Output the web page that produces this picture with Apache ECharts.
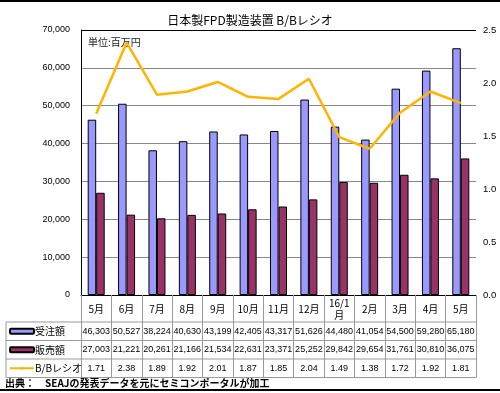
<!DOCTYPE html>
<html>
<head>
<meta charset="utf-8">
<script src="https://cdn.jsdelivr.net/npm/echarts@6/dist/echarts.min.js"></script>
<style>html,body{margin:0;padding:0;background:#fff;}#c{width:500px;height:393px;}</style>
</head>
<body>
<div id="c"></div>
<script>
// ---- data ----
const categories = ['5月','6月','7月','8月','9月','10月','11月','12月','16/1\n月','2月','3月','4月','5月'];
const orders = [46303,50527,38224,40630,43199,42405,43317,51626,44480,41054,54500,59280,65180];
const sales = [27003,21221,20261,21166,21534,22631,23371,25252,29842,29654,31761,30810,36075];
const bbRatio = [1.71,2.38,1.89,1.92,2.01,1.87,1.85,2.04,1.49,1.38,1.72,1.92,1.81];
const seriesNames = ['受注額','販売額','B/Bレシオ'];
const leftAxis = {min: 0, max: 70000, interval: 10000};
const rightAxis = {min: 0, max: 2.5, interval: 0.5};
const titleText = '日本製FPD製造装置 B/Bレシオ';
const unitText = '単位:百万円';
const sourceText = '出典：　SEAJの発表データを元にセミコンポータルが加工';

// ---- layout ----
const G = {left: 81, right: 476, top: 30, bottom: 295};
const rowTops = [322, 340.5, 359];
const rowH = 18.5;
const tableBottom = rowTops[2] + rowH;
const tableLeft = 6;
const numFont = '"Liberation Sans", Arial, "Noto Sans CJK JP", sans-serif';
const jpFont = '"Noto Sans CJK JP", "Liberation Sans", sans-serif';
const gridColor = '#888888';
const tableLine = '#999999';

const fmt = v => v.toLocaleString('en-US');

function valueAxis(values, row, formatter) {
  return {
    type: 'category', gridIndex: 0, position: 'bottom',
    data: values.map(formatter),
    offset: rowTops[row] - G.bottom,
    axisLine: {show: false}, axisTick: {show: false}, splitLine: {show: false},
    axisLabel: {interval: 0, margin: rowH / 2, verticalAlign: 'middle',
      fontSize: 9, color: '#000', fontFamily: numFont}
  };
}

const splitColors = [];
for (let v = leftAxis.min; v <= leftAxis.max; v += leftAxis.interval) splitColors.push(gridColor);
splitColors[splitColors.length - 1] = '#000';

const chart = echarts.init(document.getElementById('c'), null, {renderer: 'canvas', width: 500, height: 393});

const lines = [];
rowTops.concat([tableBottom]).forEach(y => {
  lines.push({type: 'line', shape: {x1: tableLeft, y1: y, x2: G.right, y2: y}, style: {stroke: tableLine, lineWidth: 1}});
});
lines.push({type: 'line', shape: {x1: tableLeft, y1: rowTops[0], x2: tableLeft, y2: tableBottom}, style: {stroke: tableLine, lineWidth: 1}});
lines.push({type: 'line', shape: {x1: 0, y1: 1, x2: 500, y2: 1}, style: {stroke: '#000', lineWidth: 2}});
lines.push({type: 'line', shape: {x1: 0, y1: 390, x2: 500, y2: 390}, style: {stroke: '#000', lineWidth: 2}});

const legends = seriesNames.map((n, i) => ({
  data: [n], left: 9, top: rowTops[i] + rowH / 2 - 6, padding: 0,
  orient: 'horizontal', icon: i < 2 ? 'roundRect' : undefined,
  itemWidth: 24, itemHeight: i < 2 ? 5 : 3, itemGap: 0,
  selectedMode: false,
  textStyle: {fontSize: 10, color: '#000', fontFamily: jpFont, lineHeight: 12, padding: [0, 0, 0, -4]}
}));

chart.setOption({
  animation: false,
  backgroundColor: '#fff',
  title: {text: titleText, left: 'center', top: 9,
    textStyle: {fontSize: 12, fontWeight: 'normal', color: '#000', fontFamily: jpFont}},
  legend: legends,
  grid: {left: G.left, right: 500 - G.right, top: G.top, bottom: 393 - G.bottom, containLabel: false},
  xAxis: [
    {type: 'category', gridIndex: 0, position: 'bottom', data: categories,
      axisLine: {lineStyle: {color: '#000', width: 1}},
      axisTick: {show: true, interval: 0, length: tableBottom - G.bottom, lineStyle: {color: tableLine}},
      axisLabel: {interval: 0, margin: 14, verticalAlign: 'middle', fontSize: 10, lineHeight: 12,
        color: '#000', fontFamily: jpFont}},
    valueAxis(orders, 0, fmt),
    valueAxis(sales, 1, fmt),
    valueAxis(bbRatio, 2, v => v.toFixed(2))
  ],
  yAxis: [
    {type: 'value', min: leftAxis.min, max: leftAxis.max, interval: leftAxis.interval,
      axisLine: {show: true, lineStyle: {color: '#000'}}, axisTick: {show: false},
      axisLabel: {margin: 11, fontSize: 9, color: '#000', fontFamily: numFont, formatter: v => fmt(v)},
      splitLine: {show: true, lineStyle: {color: splitColors, width: 1}}},
    {type: 'value', min: rightAxis.min, max: rightAxis.max, interval: rightAxis.interval, position: 'right',
      axisLine: {show: false}, axisTick: {show: false}, splitLine: {show: false},
      axisLabel: {margin: 7, fontSize: 9.5, color: '#000', fontFamily: numFont, formatter: v => v.toFixed(1)}}
  ],
  graphic: [
    {type: 'text', left: 88, top: 37, style: {text: unitText, fontSize: 10, fill: '#222', fontFamily: jpFont}},
    {type: 'text', left: 5, top: 378.5, style: {text: sourceText, fontSize: 10, fontWeight: 'bold', fill: '#000', fontFamily: jpFont}},
    {type: 'group', silent: true, children: lines}
  ],
  series: [
    {name: seriesNames[0], type: 'bar', xAxisIndex: 0, yAxisIndex: 0, data: orders, barWidth: 8.5, barGap: '0%',
      itemStyle: {color: '#9999FF', borderColor: '#000', borderWidth: 1}},
    {name: seriesNames[1], type: 'bar', xAxisIndex: 0, yAxisIndex: 0, data: sales, barWidth: 8.5, barGap: '0%',
      itemStyle: {color: '#993366', borderColor: '#000', borderWidth: 1}},
    {name: seriesNames[2], type: 'line', xAxisIndex: 0, yAxisIndex: 1, data: bbRatio, symbol: 'none',
      lineStyle: {color: '#FFB400', width: 2.5}, itemStyle: {color: '#FFB400'}, z: 5}
  ]
});
</script>
</body>
</html>
